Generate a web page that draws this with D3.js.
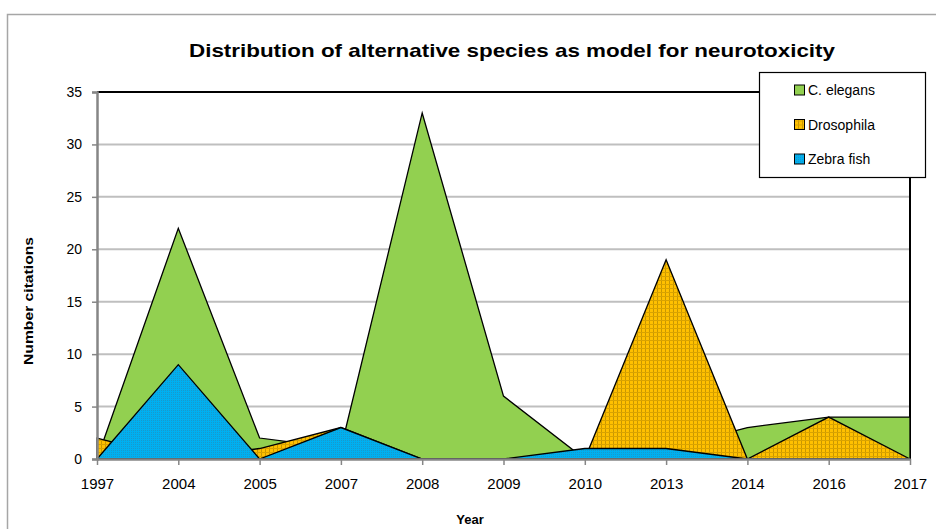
<!DOCTYPE html>
<html>
<head>
<meta charset="utf-8">
<script src="https://cdn.jsdelivr.net/npm/d3@7"></script>
<style>
  body { margin: 0; background: #fff; }
  svg { display: block; font-family: "Liberation Sans", Arial, sans-serif; }
</style>
</head>
<body>
<svg id="chart"></svg>
<script>
// data
var years = ["1997", "2004", "2005", "2007", "2008", "2009", "2010", "2013", "2014", "2016", "2017"];
var celegans = [0, 22, 2, 1, 33, 6, 0, 1, 3, 4, 4];
var drosophila = [2, 0, 1, 3, 0, 0, 0, 19, 0, 4, 0];
var zebrafish = [0, 9, 0, 3, 0, 0, 1, 1, 0, 0, 0];
var yTicks = [0, 5, 10, 15, 20, 25, 30, 35];

var W = 936, H = 529;
var margin = { top: 92, right: 26, bottom: 70, left: 97 },
  width = W - margin.left - margin.right,
  height = H - margin.top - margin.bottom;

var svg = d3.select("#chart").attr("width", W).attr("height", H);

// fill patterns
var defs = svg.append("defs");
var pOr = defs.append("pattern").attr("id", "pOrange")
  .attr("patternUnits", "userSpaceOnUse").attr("width", 4).attr("height", 4);
pOr.append("rect").attr("width", 4).attr("height", 4).attr("fill", "#ffc000");
pOr.append("rect").attr("width", 1).attr("height", 4).attr("fill", "#c99700");
pOr.append("rect").attr("width", 4).attr("height", 1).attr("fill", "#d9a300");

var pBl = defs.append("pattern").attr("id", "pBlue")
  .attr("patternUnits", "userSpaceOnUse").attr("width", 2).attr("height", 2);
pBl.append("rect").attr("width", 2).attr("height", 2).attr("fill", "#00b0f0");
pBl.append("rect").attr("width", 1).attr("height", 1).attr("fill", "#1899cc");

// outer chart border
svg.append("rect")
  .attr("x", 7.5).attr("y", 14.5)
  .attr("width", W).attr("height", H)
  .attr("fill", "none").attr("stroke", "#a6a6a6").attr("stroke-width", 1.5);

svg.append("text")
  .attr("x", 512).attr("y", 57)
  .attr("text-anchor", "middle")
  .style("font-weight", "bold").style("font-size", "19px")
  .attr("textLength", 646).attr("lengthAdjust", "spacingAndGlyphs")
  .text("Distribution of alternative species as model for neurotoxicity");

var g = svg.append("g")
  .attr("transform", "translate(" + margin.left + "," + margin.top + ")");

var x = d3.scalePoint().domain(years).range([0, width]);
var y = d3.scaleLinear().domain([0, 35]).range([height, 0]);

// gridlines
g.append("g").selectAll("line").data(yTicks.filter(function (d) { return d > 0 && d < 35; }))
  .enter().append("line")
  .attr("x1", 0).attr("x2", width)
  .attr("y1", function (d) { return y(d); }).attr("y2", function (d) { return y(d); })
  .attr("stroke", "#bfbfbf").attr("stroke-width", 2);

// plot border top/right
g.append("path")
  .attr("d", "M0," + y(35) + "H" + width + "V" + height)
  .attr("fill", "none").attr("stroke", "#000").attr("stroke-width", 2);

var series = [
  { name: "C. elegans", values: celegans, fill: "#92d050" },
  { name: "Drosophila", values: drosophila, fill: "url(#pOrange)" },
  { name: "Zebra fish", values: zebrafish, fill: "url(#pBlue)" }
];

var area = d3.area()
  .x(function (d, i) { return x(years[i]); })
  .y0(height)
  .y1(function (d) { return y(d); });

g.selectAll(".area").data(series).enter().append("path")
  .attr("class", "area")
  .attr("d", function (s) { return area(s.values); })
  .attr("fill", function (s) { return s.fill; })
  .attr("stroke", "#000").attr("stroke-width", 1.3)
  .attr("stroke-linejoin", "miter");

// axes
var yAxis = d3.axisLeft(y).tickValues(yTicks).tickSize(5).tickPadding(10);
var gy = g.append("g").call(yAxis);
gy.select(".domain").attr("stroke", "#868686").attr("stroke-width", 2.5);
gy.selectAll(".tick line").attr("stroke", "#868686").attr("stroke-width", 1.5);
gy.selectAll("text").style("font-size", "14px").attr("fill", "#000");

var xAxis = d3.axisBottom(x).tickSize(6).tickPadding(13).tickSizeOuter(0);
var gx = g.append("g").attr("transform", "translate(0," + height + ")").call(xAxis);
gx.select(".domain").attr("stroke", "#868686").attr("stroke-width", 2.5);
gx.selectAll(".tick line").attr("stroke", "#868686").attr("stroke-width", 1.5);
gx.selectAll("text").style("font-size", "15px").attr("fill", "#000");

svg.append("text")
  .attr("x", 470).attr("y", 524)
  .attr("text-anchor", "middle")
  .style("font-weight", "bold").style("font-size", "13px")
  .text("Year");

svg.append("text")
  .attr("transform", "translate(33,301) rotate(-90)")
  .attr("text-anchor", "middle")
  .style("font-weight", "bold").style("font-size", "13px")
  .attr("textLength", 128).attr("lengthAdjust", "spacingAndGlyphs")
  .text("Number citations");

// legend
var lg = svg.append("g").attr("transform", "translate(759,72)");
lg.append("rect").attr("x", 0.5).attr("y", 0.5).attr("width", 166).attr("height", 105)
  .attr("fill", "#fff").attr("stroke", "#000").attr("stroke-width", 1.2);
var items = lg.selectAll(".item").data(series).enter().append("g")
  .attr("transform", function (d, i) { return "translate(35," + (18 + i * 34.5) + ")"; });
items.append("rect").attr("x", 0.5).attr("y", -5).attr("width", 10).attr("height", 10)
  .attr("fill", function (d) { return d.fill; })
  .attr("stroke", "#000").attr("stroke-width", 1);
items.append("text").attr("x", 14).attr("y", 5)
  .style("font-size", "14px")
  .text(function (d) { return d.name; });
</script>
</body>
</html>
